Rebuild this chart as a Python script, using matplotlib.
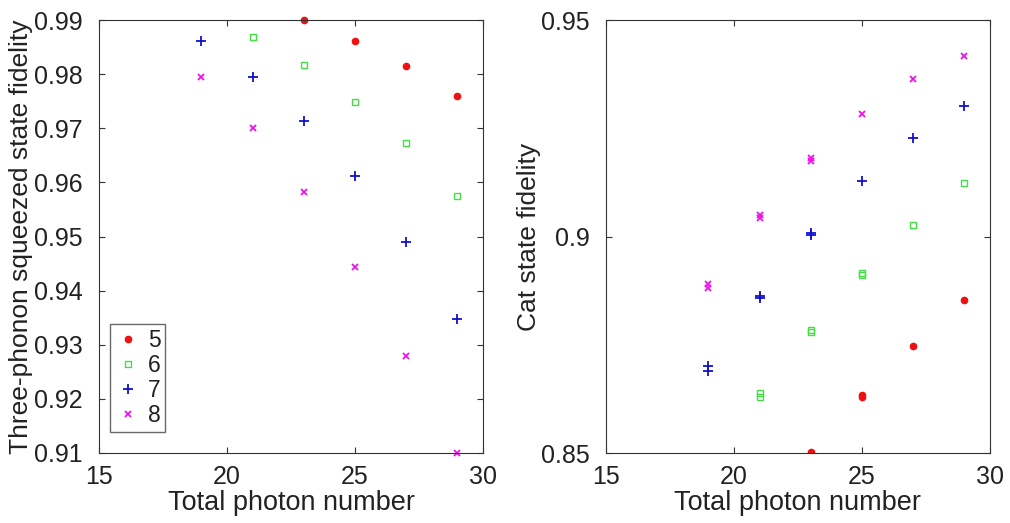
import numpy as np
import matplotlib
matplotlib.use("Agg")
import matplotlib.pyplot as plt

plt.rcParams['font.family'] = ['Liberation Sans', 'DejaVu Sans']

# total photon number
n_tot = [19, 21, 23, 25, 27, 29]

# left panel: three-phonon squeezed state fidelity
sq5 = [None, None, 0.9900, 0.9862, 0.9815, 0.9759]
sq6 = [None, 0.9869, 0.9816, 0.9749, 0.9672, 0.9575]
sq7 = [0.9861, 0.9795, 0.9714, 0.9611, 0.9489, 0.9347]
sq8 = [0.9794, 0.9700, 0.9583, 0.9444, 0.9280, 0.9100]

# right panel: cat state fidelity (some x have two runs)
cat5_x = [23, 25, 25, 27, 29]
cat5 = [0.8503, 0.8633, 0.8629, 0.8747, 0.8854]
cat6_x = [21, 21, 23, 23, 25, 25, 27, 29]
cat6 = [0.8638, 0.8630, 0.8785, 0.8779, 0.8915, 0.8911, 0.9027, 0.9124]
cat7_x = [19, 19, 21, 21, 23, 23, 25, 27, 29]
cat7 = [0.8700, 0.8689, 0.8862, 0.8858, 0.9008, 0.9004, 0.9128, 0.9228, 0.9302]
cat8_x = [19, 19, 21, 21, 23, 23, 25, 27, 29]
cat8 = [0.8890, 0.8880, 0.9049, 0.9043, 0.9182, 0.9175, 0.9284, 0.9363, 0.9417]

labels = ['5', '6', '7', '8']
cols = ['#ee1111', '#44dd44', '#1111cc', '#ee11ee']
styles = [dict(marker='o', ms=4.5, mfc=cols[0], mec=cols[0]),
          dict(marker='s', ms=4.5, mfc='none', mec=cols[1], mew=1.0),
          dict(marker='+', ms=7, mec=cols[2], mew=1.3),
          dict(marker='x', ms=5, mec=cols[3], mew=1.3)]

txt = '#222222'
fig = plt.figure(figsize=(10.1, 5.23), dpi=100)
ax1 = fig.add_axes([99/1010, 70/523, 384/1010, 433/523])
ax2 = fig.add_axes([606/1010, 70/523, 384/1010, 433/523])

for ys, st, lb in zip([sq5, sq6, sq7, sq8], styles, labels):
    xx = [x for x, y in zip(n_tot, ys) if y is not None]
    yy = [y for y in ys if y is not None]
    ax1.plot(xx, yy, ls='none', label=lb, clip_on=False, **st)

for xs, ys, st in zip([cat5_x, cat6_x, cat7_x, cat8_x], [cat5, cat6, cat7, cat8], styles):
    ax2.plot(xs, ys, ls='none', **st)

ax1.set_xlim(15, 30)
ax1.set_ylim(0.91, 0.99)
ax1.set_yticks(np.arange(0.91, 0.991, 0.01))
ax1.set_yticklabels(['%.2f' % v for v in np.arange(0.91, 0.991, 0.01)])
ax1.set_ylabel('Three-phonon squeezed state fidelity', fontsize=19, labelpad=1, color=txt)

ax2.set_xlim(15, 30)
ax2.set_ylim(0.85, 0.95)
ax2.set_yticks([0.85, 0.9, 0.95])
ax2.set_yticklabels(['0.85', '0.9', '0.95'])
ax2.set_ylabel('Cat state fidelity', fontsize=19, labelpad=0, color=txt)

for ax in (ax1, ax2):
    ax.set_xticks([15, 20, 25, 30])
    ax.set_xlabel('Total photon number', fontsize=19.5, labelpad=0, color=txt)
    ax.tick_params(direction='in', top=True, right=True, labelsize=18, length=4,
                   color='#333333', labelcolor=txt, pad=11.5)
    ax.tick_params(axis='x', pad=9)
    for s in ax.spines.values():
        s.set_color('#333333')

leg = ax1.legend(loc='lower left', fontsize=16.5, frameon=True, fancybox=False,
                 borderaxespad=0, handlelength=1.2, handletextpad=0.25,
                 labelspacing=0.1, borderpad=0.2, markerfirst=True,
                 bbox_to_anchor=(11/384, 21/433))
leg.get_frame().set_edgecolor('#444444')
leg.get_frame().set_linewidth(1.0)
for t in leg.get_texts():
    t.set_color(txt)

fig.savefig('out.png', dpi=100)
